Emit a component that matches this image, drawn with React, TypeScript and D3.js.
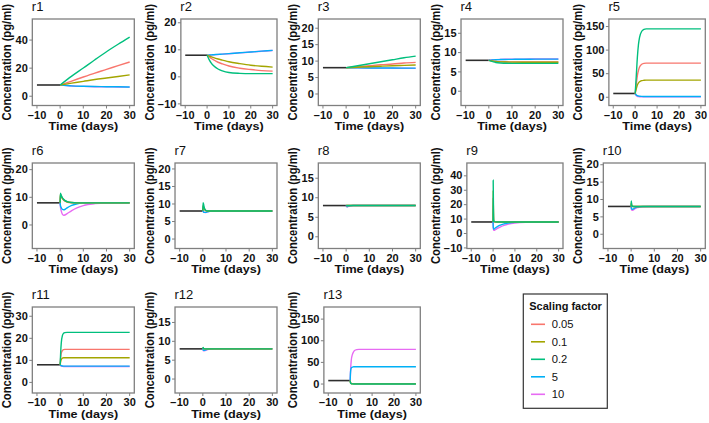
import React from 'react';
import * as d3 from 'd3';

// ---- data -------------------------------------------------------------
const factors = ['0.05', '0.1', '0.2', '5', '10'];
const colors = ['#F8766D', '#A3A500', '#00BF7D', '#00B0F6', '#E76BF3'];
const drawOrder = [4, 3, 0, 1, 2]; // 10 first, 0.2 last (on top)
const baseline = 8;
const preTimes = [-10, 0];
const xTicks = [-10, 0, 10, 20, 30];

const r1Times = [0, 5, 10, 15, 20, 25, 30];
const r1Values = [
  [8, 10.8, 13.7, 16.5, 19.1, 21.8, 24.4],
  [8, 9.3, 10.6, 11.9, 13, 14.1, 15.2],
  [8, 14.3, 20.1, 26, 31.7, 37, 42.1],
  [8, 7.4, 7.1, 6.9, 6.8, 6.7, 6.6],
  [8, 7.3, 7, 6.8, 6.7, 6.6, 6.5],
];

const r2Times = [0, 1, 2, 3, 5, 7, 10, 15, 20, 25, 30];
const r2Values = [
  [8, 7.4, 6.8, 6.3, 5.4, 4.8, 4, 3.2, 2.7, 2.3, 2.1],
  [8, 7.7, 7.4, 7.1, 6.6, 6.2, 5.6, 4.9, 4.3, 3.9, 3.6],
  [8, 6.3, 5, 4.1, 2.9, 2.2, 1.6, 1.3, 1.2, 1.2, 1.2],
  [8, 8.06, 8.12, 8.18, 8.3, 8.42, 8.6, 8.9, 9.2, 9.5, 9.8],
  [8, 8.05, 8.1, 8.16, 8.27, 8.39, 8.57, 8.87, 9.17, 9.47, 9.75],
];

const r3Times = [0, 5, 10, 15, 20, 25, 30];
const r3Values = [
  [8, 8.3, 8.6, 8.9, 9.1, 9.4, 9.6],
  [8, 8.15, 8.3, 8.45, 8.6, 8.7, 8.8],
  [8, 8.6, 9.2, 9.8, 10.4, 11, 11.5],
  [8, 7.95, 7.92, 7.9, 7.88, 7.87, 7.85],
  [8, 7.93, 7.89, 7.86, 7.84, 7.82, 7.8],
];

const r4Times = [0, 1, 2, 3, 5, 7, 10, 15, 20, 30];
const r4Values = [
  [8, 7.9, 7.8, 7.72, 7.65, 7.62, 7.6, 7.6, 7.6, 7.6],
  [8, 7.88, 7.78, 7.7, 7.6, 7.55, 7.52, 7.5, 7.5, 7.5],
  [8, 7.8, 7.6, 7.45, 7.3, 7.25, 7.2, 7.2, 7.2, 7.2],
  [8, 8.06, 8.12, 8.16, 8.2, 8.23, 8.25, 8.28, 8.3, 8.3],
  [8, 8.08, 8.14, 8.18, 8.23, 8.26, 8.28, 8.31, 8.33, 8.34],
];

const r5Times = [0, 0.5, 1, 1.5, 2, 3, 4, 5, 7, 30];
const r5Values = [
  [8, 28, 46, 57, 64, 70, 72, 72.5, 72.5, 72.5],
  [8, 18, 26, 30.5, 33, 35.3, 36, 36.3, 36.3, 36.3],
  [8, 45, 85, 112, 127, 140, 144, 145, 145, 145],
  [8, 5, 3.5, 2.6, 2.2, 1.8, 1.7, 1.6, 1.6, 1.6],
  [8, 3.5, 2, 1.4, 1.1, 0.9, 0.85, 0.8, 0.8, 0.8],
];

const r6Times = [0, 0.1, 0.5, 1, 1.5, 2, 3, 5, 7, 10, 15, 20, 30];
const r6Values = [
  [8, 10.8, 10.2, 9.5, 9, 8.7, 8.3, 8.05, 8, 8, 8, 8, 8],
  [8, 11.2, 10.4, 9.6, 9.1, 8.8, 8.35, 8.1, 8, 8, 8, 8, 8],
  [8, 11.5, 10.6, 9.8, 9.3, 8.9, 8.45, 8.1, 8, 8, 8, 8, 8],
  [8, 7.2, 6.2, 5.6, 5.5, 5.6, 6.2, 7.1, 7.6, 7.9, 8, 8, 8],
  [8, 6.8, 5, 3.8, 3.5, 3.6, 4.1, 5.2, 6.1, 7, 7.7, 7.95, 8],
];

const r7Times = [0, 0.1, 0.3, 0.6, 1, 1.5, 2, 3, 5, 30];
const r7Values = [
  [8, 9.2, 9, 8.5, 8.2, 8.05, 8, 8, 8, 8],
  [8, 9.6, 9.3, 8.7, 8.3, 8.1, 8.02, 8, 8, 8],
  [8, 10.4, 10, 9, 8.4, 8.1, 8, 8, 8, 8],
  [8, 7.9, 7.75, 7.62, 7.6, 7.65, 7.78, 7.93, 8, 8],
  [8, 7.88, 7.72, 7.6, 7.57, 7.62, 7.75, 7.9, 7.99, 8],
];

const r8Times = [0, 0.2, 0.5, 1, 2, 3, 30];
const r8Values = [
  [8, 8, 8, 8, 8, 8, 8],
  [8, 8, 8, 8, 8, 8, 8],
  [8, 8.05, 8, 8, 8, 8, 8],
  [8, 7.8, 7.75, 7.85, 7.95, 8, 8],
  [8, 7.75, 7.7, 7.8, 7.93, 8, 8],
];

const r9Times = [0, 0.05, 0.15, 0.3, 0.6, 1, 2, 3, 5, 7, 10, 15, 20, 30];
const r9Values = [
  [8, 25, 14, 8.4, 8.1, 8, 8, 8, 8, 8, 8, 8, 8, 8],
  [8, 30, 17, 8.7, 8.2, 8.05, 8, 8, 8, 8, 8, 8, 8, 8],
  [8, 37, 20, 9, 8.3, 8.1, 8, 8, 8, 8, 8, 8, 8, 8],
  [8, 5.5, 3.8, 3, 3.2, 3.8, 4.8, 5.6, 6.7, 7.3, 7.8, 8, 8, 8],
  [8, 4.8, 3, 2.2, 2.2, 2.6, 3.5, 4.3, 5.6, 6.5, 7.3, 7.85, 8, 8],
];

const r10Times = [0, 0.05, 0.15, 0.3, 0.6, 1, 1.5, 3, 5, 8, 30];
const r10Values = [
  [8, 8.8, 8.5, 8.1, 8, 8, 8, 8, 8, 8, 8],
  [8, 9.1, 8.7, 8.2, 8.03, 8, 8, 8, 8, 8, 8],
  [8, 9.6, 9, 8.3, 8.05, 8, 8, 8, 8, 8, 8],
  [8, 7.7, 7.4, 7.25, 7.2, 7.3, 7.55, 7.85, 7.97, 8, 8],
  [8, 7.5, 7.1, 6.95, 6.9, 7, 7.3, 7.7, 7.9, 8, 8],
];

const r11Times = [0, 0.25, 0.5, 1, 1.5, 2, 3, 30];
const r11Values = [
  [8, 11.5, 13.3, 14.5, 14.9, 15, 15, 15],
  [8, 9.6, 10.4, 11, 11.2, 11.2, 11.2, 11.2],
  [8, 14, 18, 21.3, 22.3, 22.6, 22.7, 22.7],
  [8, 7.75, 7.6, 7.45, 7.4, 7.4, 7.4, 7.4],
  [8, 7.6, 7.4, 7.3, 7.25, 7.25, 7.25, 7.25],
];

const r12Times = [0, 0.1, 0.3, 0.6, 1, 2, 3, 5, 30];
const r12Values = [
  [8, 8.2, 8.1, 8, 8, 8, 8, 8, 8],
  [8, 8.25, 8.1, 8.02, 8, 8, 8, 8, 8],
  [8, 8.4, 8.15, 8.03, 8, 8, 8, 8, 8],
  [8, 7.8, 7.6, 7.6, 7.7, 7.9, 7.98, 8, 8],
  [8, 7.7, 7.5, 7.5, 7.55, 7.8, 7.95, 8, 8],
];

const r13Times = [0, 0.1, 0.25, 0.5, 1, 1.5, 2, 3, 4, 30];
const r13Values = [
  [8, 5, 3, 1.6, 1, 0.85, 0.8, 0.8, 0.8, 0.8],
  [8, 4.5, 2.5, 1.1, 0.6, 0.45, 0.4, 0.4, 0.4, 0.4],
  [8, 4, 1.8, 0.7, 0.3, 0.22, 0.2, 0.2, 0.2, 0.2],
  [8, 22, 32, 37, 39.3, 39.8, 40, 40, 40, 40],
  [8, 22, 38, 55, 68, 74, 77.5, 79.5, 80, 80],
];

const panelNames = ['r1', 'r2', 'r3', 'r4', 'r5', 'r6', 'r7', 'r8', 'r9', 'r10', 'r11', 'r12', 'r13'];
const panelTimes = [r1Times, r2Times, r3Times, r4Times, r5Times, r6Times, r7Times, r8Times, r9Times, r10Times, r11Times, r12Times, r13Times];
const panelValues = [r1Values, r2Values, r3Values, r4Values, r5Values, r6Values, r7Values, r8Values, r9Values, r10Values, r11Values, r12Values, r13Values];
const yLimits = [
  [-6.6, 55], [-10.6, 21.4], [-3.5, 22.8], [-3.7, 18.7], [-17.5, 166],
  [-8.5, 22.4], [-2.7, 21.7], [-3, 18.9], [-10.4, 48.9], [-4.1, 20.5],
  [-4.8, 34.2], [-3.7, 19.1], [-20.7, 178],
];
const yTicks = [
  [0, 20, 40], [-10, 0, 10, 20], [0, 5, 10, 15, 20], [0, 5, 10, 15], [0, 50, 100, 150],
  [0, 10, 20], [0, 5, 10, 15, 20], [0, 5, 10, 15], [-10, 0, 10, 20, 30, 40], [0, 5, 10, 15, 20],
  [0, 10, 20, 30], [0, 5, 10, 15], [0, 50, 100, 150],
];

// ---- layout -----------------------------------------------------------
const W = 709, H = 423;
const FONT = "'Liberation Sans', Arial, Helvetica, sans-serif";
const SY = 0.92; // the picture is a little squeezed vertically
const colStarts = [0, 142.7, 286, 428.7, 571];
const rowTops = [19, 163, 307];
const rowBottoms = [105.5, 248.5, 393];
const border = '#7f7f7f';

const fmt = (v: number) => (v < 0 ? '\u2212' + Math.abs(v) : String(v));
const labelWidth = (s: string) => s.split('').reduce((a, c) => a + (c === '\u2212' ? 5.84 : 5.56), 0);

const Txt = ({ x, y, size, weight = 'normal', anchor = 'start', rotate = 0, dy = '0', children }: any) => (
  <g transform={`translate(${x},${y}) scale(1,${SY})${rotate ? ` rotate(${rotate})` : ''}`}>
    <text fontFamily={FONT} fontSize={size} fontWeight={weight} textAnchor={anchor} dy={dy} fill="#111">
      {children}
    </text>
  </g>
);

const Panel = ({ i }: { i: number }) => {
  const col = i % 5, row = Math.floor(i / 5);
  const ticks = yTicks[i];
  const tw = Math.max(...ticks.map(t => labelWidth(fmt(t))));
  const left = colStarts[col] + 21.2 + tw;
  const right = colStarts[col] + 134.3;
  const top = rowTops[row], bottom = rowBottoms[row];
  const x = d3.scaleLinear().domain([-12, 32]).range([left, right]);
  const y = d3.scaleLinear().domain(yLimits[i]).range([bottom, top]);
  const times = panelTimes[i];
  const line = d3.line<number>()
    .x((_, k) => x(times[k]))
    .y(v => y(v))
    .curve(d3.curveMonotoneX);
  const pre = d3.line<number>().x(t => x(t)).y(() => y(baseline));
  return (
    <g>
      <rect x={left} y={top} width={right - left} height={bottom - top} fill="#fff" />
      <path d={pre(preTimes) || ''} fill="none" stroke="#2e2e2e" strokeWidth={1.6} />
      {drawOrder.map(s => (
        <path key={s} d={line(panelValues[i][s]) || ''} fill="none" stroke={colors[s]} strokeWidth={1.4} />
      ))}
      <rect x={left} y={top} width={right - left} height={bottom - top} fill="none" stroke={border} strokeWidth={1.3} />
      {ticks.map(t => (
        <g key={'y' + t}>
          <line x1={left - 3} x2={left} y1={y(t)} y2={y(t)} stroke={border} strokeWidth={1} />
          <Txt x={left - 4.5} y={y(t)} size={11} weight="bold" anchor="end" dy="0.36em">{fmt(t)}</Txt>
        </g>
      ))}
      {xTicks.map(t => (
        <g key={'x' + t}>
          <line x1={x(t)} x2={x(t)} y1={bottom} y2={bottom + 3} stroke={border} strokeWidth={1} />
          <Txt x={x(t)} y={bottom + 13} size={11} weight="bold" anchor="middle">{fmt(t)}</Txt>
        </g>
      ))}
      <Txt x={(left + right) / 2} y={bottom + 24.5} size={12.6} weight="bold" anchor="middle">Time (days)</Txt>
      <Txt x={left - tw - 10.3} y={(top + bottom) / 2} size={12.2} weight="bold" anchor="middle" rotate={-90}>
        Concentration (pg/ml)
      </Txt>
      <Txt x={left - 0.5} y={top - 8} size={13}>{panelNames[i]}</Txt>
    </g>
  );
};

const Legend = () => {
  const ly = d3.scaleLinear().domain([0, 4]).range([324.3, 394.3]);
  return (
    <g>
      <rect x={523.3} y={294} width={84} height={114.3} fill="#fff" stroke="#333" strokeWidth={1.2} />
      <Txt x={529.3} y={310} size={11} weight="bold">Scaling factor</Txt>
      {factors.map((f, k) => (
        <g key={f}>
          <line x1={531} x2={545} y1={ly(k)} y2={ly(k)} stroke={colors[k]} strokeWidth={1.6} />
          <Txt x={551.7} y={ly(k)} size={11.2} dy="0.36em">{f}</Txt>
        </g>
      ))}
    </g>
  );
};

export default function App() {
  return (
    <svg width={W} height={H} style={{ position: 'absolute', left: 0, top: 0, background: '#fff' }}>
      <rect width={W} height={H} fill="#fff" />
      {panelNames.map((_, i) => <Panel key={i} i={i} />)}
      <Legend />
    </svg>
  );
}
